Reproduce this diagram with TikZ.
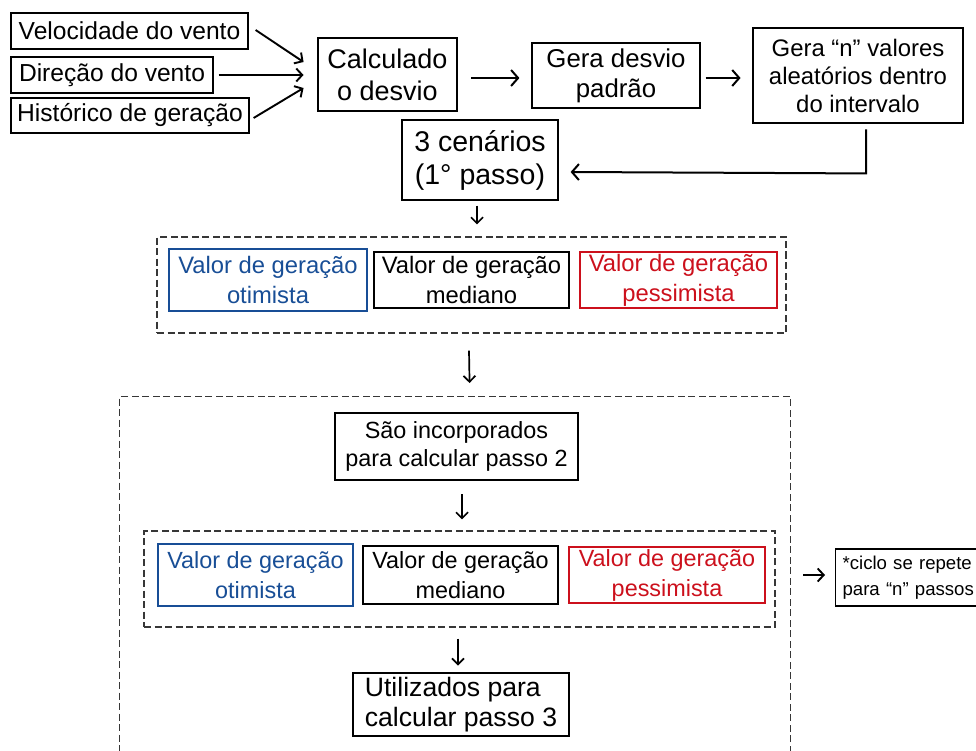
\documentclass[tikz,border=0pt]{standalone}
\usepackage{fontspec}
\setmainfont{Liberation Sans}
\usetikzlibrary{arrows.meta,calc}
\definecolor{otblue}{RGB}{24,78,150}
\definecolor{pesred}{RGB}{204,16,28}
\definecolor{dashgray}{RGB}{55,55,55}

\begin{document}
\begin{tikzpicture}[x=1pt,y=-1pt,
  fs/.style 2 args={font=\fontsize{#1}{#2}\selectfont},
  sz/.style 2 args={minimum width=#1pt,minimum height=#2pt},
  thinbox/.style={draw=black,line width=1.2pt,inner sep=0pt,align=center},
  thickbox/.style={draw=black,line width=2.9pt,inner sep=0pt,align=center},
  bluebox/.style={draw=otblue,text=otblue,line width=2.8pt,inner sep=0pt,align=center},
  redbox/.style={draw=pesred,text=pesred,line width=2.6pt,inner sep=0pt,align=center},
  group/.style={draw=dashgray,line width=1.1pt,dash pattern=on 7pt off 3.5pt,inner sep=0pt},
  arr/.style={line width=2pt,-{Straight Barb[length=7pt,width=16pt,line width=2pt]}},
  sarr/.style={line width=1.9pt,-{Straight Barb[length=6pt,width=13pt,line width=1.9pt]}},
  darr/.style={line width=1.7pt,-{Straight Barb[length=6pt,width=12pt,line width=1.7pt]}},
]
\useasboundingbox (0,0) rectangle (976,751);
\clip (0,0) rectangle (976,751);

% inputs
\node[thinbox,sz={237}{36},fs={24.6}{29}] (vel) at (129.5,31) {Velocidade do vento};
\node[thinbox,sz={202}{36},fs={24.6}{29}] (dir) at (112,75) {Direção do vento};
\node[thinbox,sz={238}{35},fs={24.6}{29}] (his) at (130,115.5) {Histórico de geração};

% first row of processing steps
\node[thickbox,sz={139}{73},fs={27}{32}] (calc) at (387.5,74.5) {Calculado\\o desvio};
\node[thinbox,sz={168}{65},fs={25.8}{30}] (gdp) at (616,75.5) {Gera desvio\\padrão};
\node[thickbox,sz={210}{95},fs={23.9}{28}] (gn) at (858,75.5) {Gera “n” valores\\aleatórios dentro\\do intervalo};
\node[thinbox,sz={156}{80},fs={28.5}{33}] (cen) at (480,160) {3 cenários\\(1° passo)};

% step 1 scenarios
\node[group,sz={629}{96}] (g1) at (471.5,285) {};
\node[bluebox,sz={198}{62},fs={23.8}{30}] (o1) at (268,280) {Valor de geração\\otimista};
\node[thickbox,sz={195}{56},fs={23.8}{30}] (m1) at (471.5,280) {Valor de geração\\mediano};
\node[redbox,sz={197}{56},fs={23.8}{30}] (p1) at (678.5,280) {Valor de geração\\pessimista};

% repeating cycle
\node[group,sz={671}{420},anchor=north west] (cyc) at (119,396) {};
\node[thickbox,sz={243}{67},fs={23.4}{28}] (sao) at (456.5,446.5) {São incorporados\\para calcular passo 2};
\node[group,sz={631}{96}] (g2) at (459.5,579) {};
\node[bluebox,sz={195}{62},fs={23.4}{30}] (o2) at (255.5,575) {Valor de geração\\otimista};
\node[thickbox,sz={195}{58},fs={23.4}{30}] (m2) at (460.5,575) {Valor de geração\\mediano};
\node[redbox,sz={196}{56},fs={23.4}{30}] (p2) at (667,575) {Valor de geração\\pessimista};
\node[thickbox,sz={216}{63},fs={26.6}{30},align=left] (util) at (461,704.5) {Utilizados para\\calcular passo 3};

% side note
\node[thinbox,anchor=west,text width=150pt,align=left,inner xsep=6pt,sz={164}{57},fs={18.6}{26}] (note) at (835,577.5) {*ciclo se repete\\para “n” passos};

% connectors
\draw[sarr] ($(vel.east)+(7,-1)$) -- ($(calc.west)+(-13,-12.5)$);
\draw[sarr] ($(dir.east)+(5,0)$) -- ($(calc.west)+(-13,0.5)$);
\draw[sarr] ($(his.east)+(4,2.5)$) -- ($(calc.west)+(-13,13.5)$);
\draw[arr] ($(calc.east)+(13,3.5)$) -- ($(gdp.west)+(-12,2.5)$);
\draw[arr] ($(gdp.east)+(5,2.5)$) -- ($(gn.west)+(-11,2.5)$);
\draw[arr] ($(gn.south)+(8,5)$) -- ($(gn.south)+(8,49)$) -- ($(cen.east)+(12,12)$);
\draw[darr] ($(cen.south)+(-3,5)$) -- ($(g1.north)+(5.5,-12)$);
\draw[darr] ($(g1.south)+(-2.5,17)$) -- ($(cyc.north)+(14.5,-13)$);
\draw[darr] ($(sao.south)+(5.5,13)$) -- ($(g2.north)+(2.5,-11)$);
\draw[darr] ($(g2.south)+(-1.5,11)$) -- ($(util.north)+(-3,-6)$);
\draw[sarr] ($(cyc.east |- note.west)+(12,-2.5)$) -- ($(note.west)+(-10,-2.5)$);
\end{tikzpicture}
\end{document}
